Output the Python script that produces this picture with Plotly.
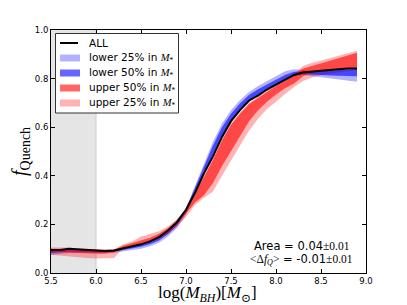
import plotly.graph_objects as go

log_mbh = [5.5, 5.6, 5.7, 5.8, 5.9, 6.0, 6.1, 6.2, 6.3, 6.4, 6.5, 6.6, 6.7, 6.8, 6.9,
           7.0, 7.1, 7.2, 7.3, 7.4, 7.5, 7.6, 7.7, 7.8, 7.9, 8.0, 8.1, 8.2, 8.3, 8.4,
           8.5, 8.6, 8.7, 8.8, 8.9]

f_all = [0.095, 0.095, 0.100, 0.097, 0.095, 0.094, 0.091, 0.093, 0.102, 0.108, 0.118, 0.130,
         0.148, 0.175, 0.210, 0.260, 0.330, 0.410, 0.480, 0.560, 0.625, 0.670, 0.710, 0.730,
         0.755, 0.775, 0.795, 0.815, 0.825, 0.830, 0.832, 0.835, 0.840, 0.842, 0.842]

low25_lo = [0.074, 0.078, 0.082, 0.083, 0.082, 0.081, 0.080, 0.083, 0.088, 0.094, 0.100, 0.110,
            0.125, 0.150, 0.185, 0.240, 0.330, 0.410, 0.490, 0.565, 0.625, 0.670, 0.705, 0.730,
            0.755, 0.775, 0.795, 0.810, 0.815, 0.810, 0.805, 0.800, 0.797, 0.792, 0.787]
low25_hi = [0.095, 0.097, 0.100, 0.098, 0.096, 0.094, 0.092, 0.094, 0.102, 0.108, 0.118, 0.130,
            0.148, 0.175, 0.210, 0.268, 0.360, 0.450, 0.540, 0.615, 0.670, 0.712, 0.745, 0.770,
            0.790, 0.810, 0.830, 0.838, 0.835, 0.832, 0.830, 0.832, 0.835, 0.838, 0.840]

low50_lo = [0.082, 0.085, 0.088, 0.088, 0.087, 0.086, 0.085, 0.087, 0.094, 0.100, 0.108, 0.118,
            0.134, 0.160, 0.195, 0.250, 0.330, 0.410, 0.490, 0.565, 0.625, 0.670, 0.705, 0.730,
            0.755, 0.775, 0.795, 0.812, 0.818, 0.816, 0.815, 0.813, 0.810, 0.810, 0.810]
low50_hi = [0.095, 0.097, 0.100, 0.098, 0.096, 0.094, 0.092, 0.094, 0.102, 0.108, 0.118, 0.130,
            0.148, 0.175, 0.210, 0.264, 0.350, 0.440, 0.525, 0.600, 0.655, 0.698, 0.732, 0.756,
            0.775, 0.795, 0.815, 0.828, 0.830, 0.830, 0.830, 0.832, 0.835, 0.838, 0.840]

up50_lo = [0.085, 0.085, 0.085, 0.083, 0.082, 0.080, 0.080, 0.085, 0.100, 0.108, 0.118, 0.128,
           0.142, 0.165, 0.200, 0.245, 0.290, 0.320, 0.370, 0.440, 0.505, 0.565, 0.625, 0.670,
           0.705, 0.735, 0.760, 0.780, 0.810, 0.825, 0.830, 0.835, 0.840, 0.842, 0.845]
up50_hi = [0.100, 0.100, 0.100, 0.098, 0.097, 0.096, 0.095, 0.097, 0.112, 0.122, 0.135, 0.145,
           0.162, 0.185, 0.215, 0.260, 0.325, 0.395, 0.465, 0.545, 0.610, 0.655, 0.695, 0.720,
           0.745, 0.770, 0.790, 0.815, 0.842, 0.852, 0.863, 0.873, 0.884, 0.895, 0.906]

up25_lo = [0.075, 0.072, 0.070, 0.066, 0.062, 0.060, 0.060, 0.062, 0.100, 0.108, 0.118, 0.128,
           0.142, 0.160, 0.190, 0.230, 0.280, 0.310, 0.335, 0.400, 0.465, 0.525, 0.585, 0.635,
           0.675, 0.705, 0.737, 0.765, 0.790, 0.805, 0.815, 0.820, 0.825, 0.830, 0.835]
up25_hi = [0.105, 0.105, 0.105, 0.100, 0.100, 0.098, 0.095, 0.095, 0.118, 0.130, 0.150, 0.160,
           0.172, 0.192, 0.222, 0.265, 0.330, 0.400, 0.470, 0.550, 0.615, 0.660, 0.700, 0.725,
           0.750, 0.775, 0.795, 0.820, 0.852, 0.865, 0.874, 0.885, 0.895, 0.905, 0.915]

x_ticks = [5.5, 6.0, 6.5, 7.0, 7.5, 8.0, 8.5, 9.0]
y_ticks = [0.0, 0.2, 0.4, 0.6, 0.8, 1.0]

legend_labels = ["ALL", "lower 25% in", "lower 50% in", "upper 50% in", "upper 25% in"]

SERIF = "Liberation Serif, DejaVu Serif, serif"
SANS = "DejaVu Sans, sans-serif"
MSTAR = " <span style='font-family:Liberation Serif'><i>M</i><sub>*</sub></span>"

# The page body has an 8px margin, so the figure is drawn 8px in from the window corner.
OFF = 8
FIG_W, FIG_H = 407 - OFF, 305 - OFF
# plot area in window pixels
L, R, T, B = 51, 366, 30, 273
def px(xp):
    return (xp - L) / (R - L)
def py(yp):
    return (B - yp) / (B - T)

fig = go.Figure()

band_cols = {"low25": "rgba(0,0,255,0.3)", "low50": "rgba(0,0,255,0.6)",
             "up50": "rgba(255,0,0,0.6)", "up25": "rgba(255,0,0,0.3)"}
bands = [
    (low25_lo, low25_hi, band_cols["low25"]),
    (up25_lo, up25_hi, band_cols["up25"]),
    (low50_lo, low50_hi, band_cols["low50"]),
    (up50_lo, up50_hi, band_cols["up50"]),
]
for lo, hi, col in bands:
    fig.add_trace(go.Scatter(
        x=log_mbh + log_mbh[::-1], y=hi + lo[::-1],
        fill="toself", fillcolor=col, line=dict(width=0, color=col),
        mode="lines", showlegend=False, hoverinfo="skip"))

fig.add_trace(go.Scatter(x=log_mbh, y=f_all, mode="lines", showlegend=False,
                         line=dict(color="black", width=2)))

fig.add_shape(type="rect", xref="x", yref="y", x0=5.5, x1=6.0, y0=0, y1=1,
              fillcolor="#e5e5e5", line=dict(width=0), layer="below")
fig.add_shape(type="line", xref="x", yref="y", x0=6.0, x1=6.0, y0=0, y1=1,
              line=dict(color="#cccccc", width=1), layer="below")

# legend box (manual, matplotlib style)
fig.add_shape(type="rect", xref="paper", yref="paper",
              x0=px(55.5), x1=px(178.5), y0=py(113), y1=py(33.5),
              fillcolor="white", line=dict(color="#333333", width=1))
item_y = [43, 58, 73, 88, 103]
swatch_cols = [None, band_cols["low25"], band_cols["low50"], band_cols["up50"], band_cols["up25"]]
for lab, yy, col in zip(legend_labels, item_y, swatch_cols):
    if col is None:
        fig.add_shape(type="line", xref="paper", yref="paper",
                      x0=px(60), x1=px(78), y0=py(yy), y1=py(yy),
                      line=dict(color="black", width=2))
        txt = lab
    else:
        fig.add_shape(type="rect", xref="paper", yref="paper",
                      x0=px(60), x1=px(80), y0=py(yy + 3.5), y1=py(yy - 3.5),
                      fillcolor=col, line=dict(width=0))
        txt = lab + MSTAR
    fig.add_annotation(xref="paper", yref="paper", x=px(87), y=py(yy),
                       xanchor="left", yanchor="middle", showarrow=False,
                       text=txt, font=dict(family=SANS, size=10.5, color="black"))

fig.add_annotation(xref="paper", yref="paper", x=px(352), y=py(246), xanchor="right",
                   yanchor="middle", showarrow=False, align="right",
                   text="Area = 0.04<span style='font-family:Liberation Serif'>±0.01</span>",
                   font=dict(family=SANS, size=11.5, color="black"))
fig.add_annotation(xref="paper", yref="paper", x=px(355), y=py(259), xanchor="right",
                   yanchor="middle", showarrow=False, align="right",
                   text="<span style='font-family:Liberation Serif'>&lt;Δ<i>f</i><sub><i>Q</i></sub>&gt;</span> = -0.01<span style='font-family:Liberation Serif'>±0.01</span>",
                   font=dict(family=SANS, size=11.5, color="black"))

axis_common = dict(showline=True, linecolor="black", linewidth=1, mirror="allticks",
                   ticks="inside", ticklen=4, tickwidth=1, tickcolor="black",
                   showgrid=False, zeroline=False, automargin=False,
                   tickfont=dict(family=SANS, size=8.5, color="black"))

fig.update_xaxes(range=[5.5, 9.0], tickvals=x_ticks,
                 ticktext=[f"{v:.1f}" for v in x_ticks],
                 **axis_common)
fig.update_yaxes(range=[0, 1.0], tickvals=y_ticks,
                 ticktext=[f"{v:.1f}" for v in y_ticks],
                 **axis_common)

# axis titles as paper annotations for exact placement
fig.add_annotation(xref="paper", yref="paper", x=px(207), y=py(294), xanchor="center",
                   yanchor="middle", showarrow=False,
                   text="log(<i>M</i><sub><i>BH</i></sub>)[<i>M</i><sub>⊙</sub>]",
                   font=dict(family=SERIF, size=17, color="black"))
fig.add_annotation(xref="paper", yref="paper", x=px(20), y=py(152), xanchor="center",
                   yanchor="middle", showarrow=False, textangle=-90,
                   text="<i>f</i><sub>Quench</sub>",
                   font=dict(family=SERIF, size=20, color="black"))

fig.update_layout(
    width=FIG_W, height=FIG_H,
    margin=dict(l=L - OFF, r=407 - R, t=T - OFF, b=305 - B),
    paper_bgcolor="white", plot_bgcolor="white",
    showlegend=False,
)

fig.write_html("out.html")
